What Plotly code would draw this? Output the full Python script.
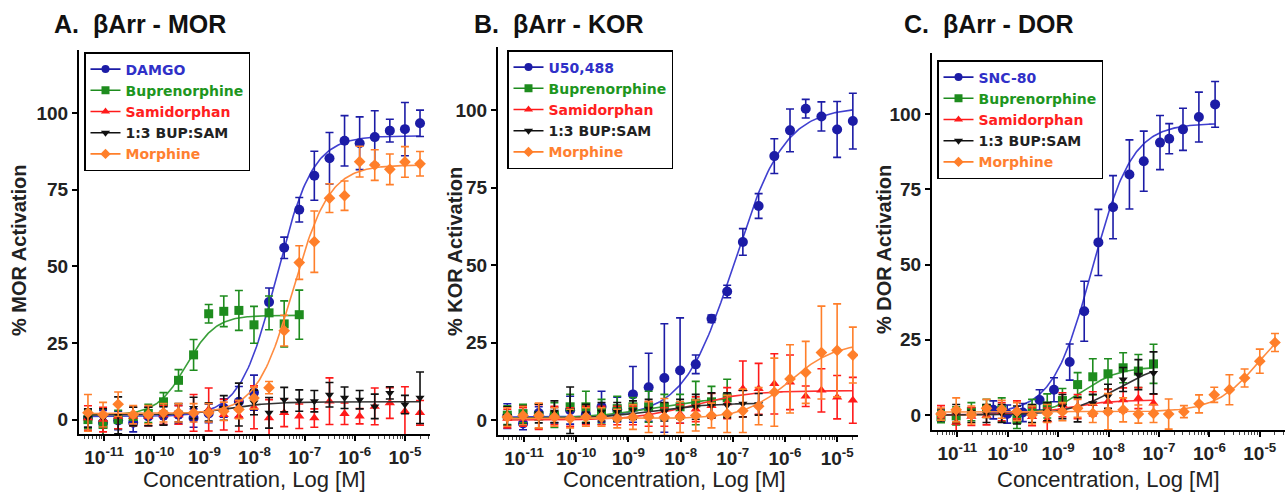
import numpy as np
import plotly.graph_objects as go

W, H = 1288, 498

# ---------------- data ----------------
CONC = [4.77e-12, 9.54e-12, 1.91e-11, 3.81e-11, 7.63e-11, 1.53e-10, 3.05e-10, 6.10e-10,
        1.22e-9, 2.44e-9, 4.88e-9, 9.77e-9, 1.95e-8, 3.91e-8, 7.81e-8, 1.56e-7,
        3.13e-7, 6.25e-7, 1.25e-6, 2.5e-6, 5e-6, 1e-5, 2e-5]
SNC80_CONC = [5.2e-11, 9.8e-11, 2.0e-10, 4.3e-10, 8.3e-10, 1.7e-9, 3.3e-9, 6.3e-9,
              1.23e-8, 2.6e-8, 5.0e-8, 1.05e-7, 1.6e-7, 3.0e-7, 6.2e-7, 1.3e-6]

# Panel A  (MOR)
A_DAMGO = [0.5, -1, -0.3, -1, 1, 1.3, 1.6, 0.5, 2, 3.8, 5.8, 8.8, 38.3, 56, 68.4, 79.5, 85.2, 90.9, 90.1, 92.1, 94.2, 94.7, 96.6]
A_DAMGO_E = [3, 4, 3, 3, 3, 3, 3, 3, 3, 3, 5, 5.7, 4.6, 3.5, 4, 8, 8.4, 8.2, 8.6, 8.6, 3.7, 8.7, 4.3]
A_BUP = [0, -1.6, 0, 1, 2, 5.8, 12.8, 21.1, 34.5, 35.3, 35.6, 30.9, 34.8, 31.2, 34.2]
A_BUP_E = [3, 3.5, 3, 3, 3, 3, 3.5, 5, 3, 5, 6.5, 6, 5.5, 7.5, 8]
A_SAM = [0.5, 0, 1, 1, 1, 1.5, 1.5, 2.2, 3.3, 1.6, 1.1, 4.0, 0.5, 2.2, 1.1, 0.5, 6, 1.9, 1.1, 4.3, 5.4, 2.7, 2.2]
A_SAM_E = [4, 4, 4, 3, 3, 3, 3, 6, 7, 5, 5, 7, 6, 4.5, 4, 3, 7.6, 3.5, 2.5, 6, 5, 8, 4]
A_MIX = [0.5, 0.5, 1.4, 1, 1, 1.2, 2.2, 3.8, 2.5, 3.8, 4.9, 5.6, 2.2, 6.5, 6.2, 6, 8.1, 7.1, 6.5, 4.3, 8.7, 4.9, 7.1]
A_MIX_E = [3, 3, 6, 3, 3, 3, 3, 3.5, 3, 4, 7, 4, 5, 4, 3.5, 3.5, 4, 3.5, 3, 4, 2, 3, 8.4]
A_MOR = [2.2, 1.6, 5, 1.6, 1.6, 2.2, 2.2, 2.2, 2.2, 2.7, 3.3, 7, 10.4, 29, 51.2, 58, 72.2, 73, 84.1, 83, 81.6, 84, 83.4]
A_MOR_E = [6, 4, 4, 3, 3, 3, 3, 3, 3, 3, 3, 3.5, 2, 5, 5.5, 10, 4.7, 4.8, 5, 5, 5, 5, 4]

# Panel B  (KOR)
B_U50 = [1.3, -1.1, 2.3, 1.6, 3.2, 1.9, 4.3, 3.4, 8.3, 10.6, 13.6, 16, 18, 32.7, 41.5, 57.5, 69.1, 85.2, 93.5, 100.5, 98, 93.8, 96.5]
B_U50_E = [4, 2, 2, 2.5, 4.5, 3, 5, 4, 9, 11, 17.5, 17, 3, 1.2, 2, 4.3, 4, 5.6, 6.9, 3, 4.7, 9, 9]
B_BUP = [1.6, 2.1, 1.3, 1.6, 4.3, 4.3, 2.7, 3.7, 4.3, 4.3, 4.3, 4.3, 5.5, 5.9, 7.2]
B_BUP_E = [3, 3, 4, 4, 4, 5, 4, 4, 3, 5, 4, 4, 7, 5, 6]
B_SAM = [0.5, 1, 1, 1.5, 1, 1.5, 1.5, 1.5, 1.5, 2, 1, 2, 3.5, 4.6, 5.5, 10.1, 10.1, 11.7, 12.2, 7.7, 9.6, 7.4, 6.4]
B_SAM_E = [3, 3, 4, 3, 3, 3, 3, 3, 3, 4, 3, 3, 4, 4, 5, 9, 8.2, 9.7, 8.8, 3.3, 7, 7, 7.4]
B_MIX = [1.3, 1.6, 2.1, 2.7, 3.2, 2.1, 2.7, 2.7, 3.2, 3.7, 2.7, 3.7, 4.3, 4.8, 4.8, 5.3, 5.1]
B_MIX_E = [3, 3, 3, 3.5, 7.5, 3, 3, 3, 3, 3, 3, 3, 4, 4, 4, 4.3, 3.5]
B_MOR = [1, 1.5, 1.5, 1, 0.5, 1, 1, 0.5, 1, 1, 1, 1, 1.5, 1.5, 2, 3, 4.5, 9, 13.3, 15.4, 21.8, 22.5, 21]
B_MOR_E = [3, 3, 4, 3, 3, 3, 3, 3, 4, 5, 6, 5, 5, 4, 6, 7, 6, 11, 11, 10, 15, 15, 9]

# Panel C  (DOR)
C_SNC = [1.7, 0.3, 0.8, 5, 8.4, 17.6, 34.5, 57.4, 69.1, 80, 84.4, 90.6, 91.9, 95, 99.1, 103.3]
C_SNC_E = [3, 3, 3, 3.4, 4, 6, 10, 11, 10.5, 11.5, 10, 9, 5, 7, 8.3, 7.6]
C_BUP = [-0.6, -0.3, 1.1, 2.2, 1.7, -1.5, 2.2, 3, 4.8, 10.1, 12.7, 13.7, 15.7, 14.6, 17]
C_BUP_E = [2, 3, 3, 3, 4, 3, 3, 4, 4, 4, 6, 5, 5, 5.5, 6.5]
C_SAM = [1.1, -2.5, -0.5, -0.3, 1.1, 1.7, -0.6, -1.7, 3.4, 2.8, 3.7, 4.5, 5, 5.6, 3.9]
C_SAM_E = [2, 3, 3, 3, 3, 3, 3, 4, 4, 4, 4, 4, 4, 3.5, 3]
C_MIX = [0, 0.5, -0.5, 0.5, 0.5, 0, 0.5, 1.1, 2.8, 1.7, 3.9, 6.2, 11.8, 13.4, 14]
C_MIX_E = [2, 3, 2, 3, 3, 3, 3, 3, 4, 4, 3, 4, 4, 5, 7]
C_MOR = [0.3, 1.7, 0, 2.2, 1.9, 1.1, 0, 0.5, 1.1, 2.2, 0.5, 1.1, 1.7, 0.3, 0.5, 0.3, 1.1, 3.7, 6.7, 8.4, 12.3, 17.9, 24.1]
C_MOR_E = [2, 4, 3, 3, 3, 3, 3, 3, 3, 3, 3, 6, 4, 3, 3, 5, 2, 3, 2.5, 5, 3, 4, 3]

# Four-parameter logistic fits: [bottom, top, logEC50, hill]
A_FITS = {"DAMGO": [1, 92.5, -7.56, 1.2], "BUP": [1.5, 34, -9.36, 1.5],
          "MIX": [1.5, 5.8, -8.5, 1.0], "MOR": [2, 83, -7.23, 1.2]}
B_FITS = {"U50": [1, 101, -6.97, 0.9], "BUP": [0.5, 7.5, -8.5, 0.7],
          "SAM": [0, 9.5, -7.8, 0.8], "MIX": [0.5, 5.5, -8.5, 0.8], "MOR": [0.5, 25, -5.9, 1.0]}
C_FITS = {"SNC": [0.5, 97, -8.32, 1.1], "BUP": [0, 16, -8.5, 1.2],
          "SAM": [0, 5, -8.8, 1.0], "MIX": [0, 18, -7.8, 0.9], "MOR": [1, 35, -5.0, 1.0]}

TITLES = ["A.  βArr - MOR", "B.  βArr - KOR", "C.  βArr - DOR"]
YTITLES = ["% MOR Activation", "% KOR Activation", "% DOR Activation"]
XTITLE = "Concentration, Log [M]"
NAMES = {"DAMGO": "DAMGO", "U50": "U50,488", "SNC": "SNC-80", "BUP": "Buprenorphine",
         "SAM": "Samidorphan", "MIX": "1:3 BUP:SAM", "MOR": "Morphine"}
XTICKS = [1e-11, 1e-10, 1e-9, 1e-8, 1e-7, 1e-6, 1e-5]
XTICKTEXT = ["10<sup>-11</sup>", "10<sup>-10</sup>", "10<sup>-9</sup>", "10<sup>-8</sup>",
             "10<sup>-7</sup>", "10<sup>-6</sup>", "10<sup>-5</sup>"]
YTICKS = [0, 25, 50, 75, 100]

# ---------------- styles ----------------
COL = {"agon": "#1c1ca6", "BUP": "#1e8c1e", "SAM": "#ff1a1a", "MIX": "#111111", "MOR": "#ff7f2a"}
LINECOL = {"agon": "#4040d0", "BUP": "#3a9f3a", "SAM": "#ff3030", "MIX": "#333333", "MOR": "#ff8c40"}
TXTCOL = {"agon": "#3030c8", "BUP": "#1e961e", "SAM": "#ff2020", "MIX": "#222222", "MOR": "#ff8030"}
SYM = {"agon": "circle", "BUP": "square", "SAM": "triangle-up", "MIX": "triangle-down", "MOR": "diamond"}
FONT = "Liberation Sans, Arial, sans-serif"
LEGFONT = "DejaVu Sans, Liberation Sans, sans-serif"

# pixel layout of each panel
PANELS = [
    dict(px=(79, 430, 50, 434), yr=[-4.7, 120.5], xr=[-11.5, -4.5], leg=(84, 52),
         title=(52, 24), ytitle=(19, 250), xtitle=(254, 479)),
    dict(px=(498, 858, 47, 435), yr=[-4.8, 120.4], xr=[-11.5, -4.6], leg=(507, 50),
         title=(472, 24), ytitle=(455, 252), xtitle=(675, 479)),
    dict(px=(932, 1285, 53, 430), yr=[-5.0, 120.4], xr=[-11.5, -4.5], leg=(937, 60),
         title=(902, 24), ytitle=(884, 250), xtitle=(1108, 479)),
]

SERIES = [
    [("DAMGO", "agon", CONC, A_DAMGO, A_DAMGO_E), ("BUP", "BUP", CONC, A_BUP, A_BUP_E),
     ("SAM", "SAM", CONC, A_SAM, A_SAM_E), ("MIX", "MIX", CONC, A_MIX, A_MIX_E),
     ("MOR", "MOR", CONC, A_MOR, A_MOR_E)],
    [("U50", "agon", CONC, B_U50, B_U50_E), ("BUP", "BUP", CONC, B_BUP, B_BUP_E),
     ("SAM", "SAM", CONC, B_SAM, B_SAM_E), ("MIX", "MIX", CONC, B_MIX, B_MIX_E),
     ("MOR", "MOR", CONC, B_MOR, B_MOR_E)],
    [("SNC", "agon", SNC80_CONC, C_SNC, C_SNC_E), ("BUP", "BUP", CONC, C_BUP, C_BUP_E),
     ("SAM", "SAM", CONC, C_SAM, C_SAM_E), ("MIX", "MIX", CONC, C_MIX, C_MIX_E),
     ("MOR", "MOR", CONC, C_MOR, C_MOR_E)],
]
FITS = [A_FITS, B_FITS, C_FITS]

MSIZE = {"agon": 10, "BUP": 9, "SAM": 9, "MIX": 8, "MOR": 9}


def hill(logx, p):
    b, t, ec, n = p
    return b + (t - b) / (1 + 10 ** (n * (ec - logx)))


minor_vals = [k * 10.0 ** d for d in range(-12, -4) for k in range(2, 10)]

fig = go.Figure()
annotations = []
layout = dict(width=W, height=H, margin=dict(l=0, r=0, t=0, b=0),
              paper_bgcolor="white", plot_bgcolor="white", showlegend=True)

for pi, (pan, series, fits) in enumerate(zip(PANELS, SERIES, FITS)):
    sfx = "" if pi == 0 else str(pi + 1)
    xa, ya = "x" + sfx, "y" + sfx
    legname = "legend" + sfx
    x0, x1, y0, y1 = pan["px"]
    layout["xaxis" + sfx] = dict(
        type="log", range=pan["xr"], domain=[x0 / W, x1 / W], anchor=ya,
        showline=True, linecolor="black", linewidth=2, showgrid=False, zeroline=False,
        tickmode="array", tickvals=XTICKS, ticktext=XTICKTEXT, ticks="outside",
        ticklen=5, tickwidth=1.5, tickcolor="black",
        tickfont=dict(family=FONT, size=19, color="#222", weight="bold"),
        minor=dict(tickmode="array", tickvals=minor_vals, ticks="outside", ticklen=3,
                   tickwidth=1, tickcolor="#444"),
    )
    layout["yaxis" + sfx] = dict(
        range=pan["yr"], domain=[1 - y1 / H, 1 - y0 / H], anchor=xa,
        showline=True, linecolor="black", linewidth=2, showgrid=False, zeroline=False,
        tickmode="array", tickvals=YTICKS, ticks="outside", ticklen=5, tickwidth=1.5,
        tickcolor="black", tickfont=dict(family=FONT, size=19, color="#222", weight="bold"),
    )
    lx, ly = pan["leg"]
    layout[legname] = dict(
        x=lx / W, y=1 - ly / H, xanchor="left", yanchor="top", xref="paper", yref="paper",
        bgcolor="white", bordercolor="black", borderwidth=1.5,
        font=dict(family=LEGFONT, size=14, color="#222", weight="bold"),
        itemwidth=30, tracegroupgap=0, traceorder="normal",
    )

    for key, ck, xs, ys, es in series:
        col = COL[ck]
        n = len(ys)
        xx = xs[:n]
        if key in fits:
            lx_ = np.linspace(np.log10(xx[0]), np.log10(xx[-1]), 200)
            fig.add_trace(go.Scatter(
                x=10 ** lx_, y=hill(lx_, fits[key]), mode="lines",
                line=dict(color=LINECOL[ck], width=1.6), xaxis=xa, yaxis=ya,
                showlegend=False, hoverinfo="skip"))
        fig.add_trace(go.Scatter(
            x=xx, y=ys, mode="markers", xaxis=xa, yaxis=ya, showlegend=False,
            marker=dict(symbol=SYM[ck], size=MSIZE[ck], color=col, line=dict(width=0)),
            error_y=dict(type="data", array=es, color=col, thickness=1.6, width=4)))
        fig.add_trace(go.Scatter(
            x=[None], y=[None], mode="lines+markers", xaxis=xa, yaxis=ya,
            name='<span style="color:%s">%s</span>' % (TXTCOL[ck], NAMES[key]),
            legend=legname, line=dict(color=col, width=1.6),
            marker=dict(symbol=SYM[ck], size=8, color=col)))

    tx, ty = pan["title"]
    annotations.append(dict(text="<b>%s</b>" % TITLES[pi], x=tx / W, y=1 - ty / H,
                            xref="paper", yref="paper", xanchor="left", yanchor="middle",
                            showarrow=False, font=dict(family=FONT, size=25, color="#111")))
    yx, yy = pan["ytitle"]
    annotations.append(dict(text="<b>%s</b>" % YTITLES[pi], x=yx / W, y=1 - yy / H,
                            xref="paper", yref="paper", xanchor="center", yanchor="middle",
                            textangle=-90, showarrow=False,
                            font=dict(family=FONT, size=20, color="#222")))
    xx_, xy_ = pan["xtitle"]
    annotations.append(dict(text=XTITLE, x=xx_ / W, y=1 - xy_ / H,
                            xref="paper", yref="paper", xanchor="center", yanchor="middle",
                            showarrow=False, font=dict(family=FONT, size=22, color="#222")))

layout["annotations"] = annotations
fig.update_layout(**layout)
fig.write_html("out.html")
